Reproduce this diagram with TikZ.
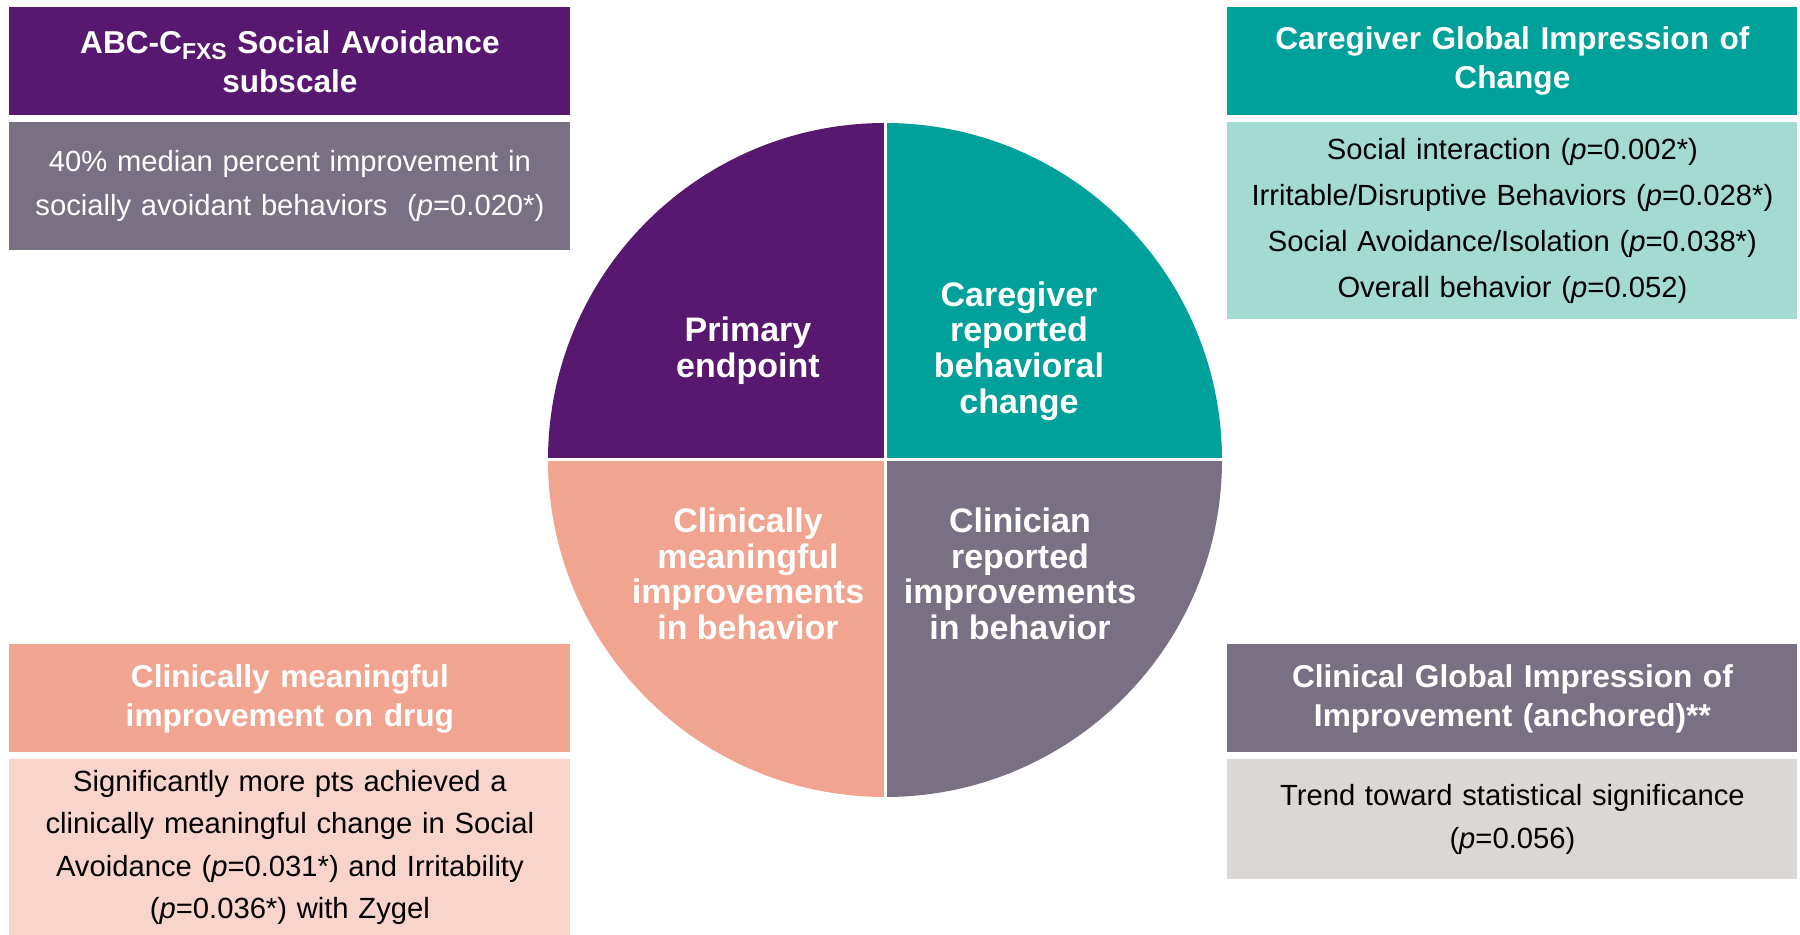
\documentclass[tikz,border=0pt]{standalone}
\usepackage{fontspec}
\setmainfont{Liberation Sans}
\definecolor{plum}{HTML}{58186F}
\definecolor{teal}{HTML}{00A19B}
\definecolor{paleteal}{HTML}{A3DBD2}
\definecolor{salmon}{HTML}{F1A590}
\definecolor{palesalmon}{HTML}{F8D4CB}
\definecolor{mauve}{HTML}{7A7083}
\definecolor{palegrey}{HTML}{DBD7D4}
\newcommand{\headfont}{\fontsize{15.8}{19.5}\selectfont}
\newcommand{\bodyfont}{\fontsize{14.6}{22}\selectfont}
\newcommand{\quadfont}{\fontsize{17}{17.8}\selectfont}
\newcommand{\fxs}{\raisebox{-0.35ex}{\fontsize{11.5}{11.5}\selectfont FXS}}
\tikzset{
  headbox/.style={fill=#1, text=white, font=\bfseries\headfont, minimum width=280.5pt,
    minimum height=54pt, text width=275pt, align=center, inner sep=0pt, anchor=north west},
  bodybox/.style={fill=#1, font=\bodyfont, minimum width=280.5pt,
    text width=275pt, align=center, inner sep=0pt, anchor=north west},
  quadtext/.style={text=white, font=\bfseries\quadfont, align=center}
}
\begin{document}
\begin{tikzpicture}[x=0.5pt,y=0.5pt]
\useasboundingbox (0,0) rectangle (1800,-935);

% pie in four quarters
\coordinate (c) at (885,-460);
\fill[plum] (c) -- ++(180:337) arc (180:90:337) -- cycle;
\fill[teal] (c) -- ++(90:337) arc (90:0:337) -- cycle;
\fill[mauve] (c) -- ++(0:337) arc (0:-90:337) -- cycle;
\fill[salmon] (c) -- ++(-90:337) arc (-90:-180:337) -- cycle;
\draw[white, line width=1.5pt] (885,-120) -- (885,-800);
\draw[white, line width=1.5pt] (545,-460) -- (1225,-460);

\node[quadtext] (primary) at (748,-351) {Primary\\endpoint};
\node[quadtext] (caregiver) at (1019,-351) {Caregiver\\reported\\behavioral\\change};
\node[quadtext] (meaningful) at (748,-574) {Clinically\\meaningful\\improvements\\in behavior};
\node[quadtext] (clinician) at (1020,-574) {Clinician\\reported\\improvements\\in behavior};

% top left
\node[headbox=plum] (abchead) at (9,-7) {ABC-C\fxs{} Social Avoidance\\subscale};
\node[bodybox=mauve, text=white, minimum height=64pt] (abcbody) at (9,-122)
  {40\% median percent improvement in\\socially avoidant behaviors~ (\textit{p}=0.020*)};

% top right
\node[headbox=teal, minimum width=285pt] (cgihead) at (1227,-7) {Caregiver Global Impression of\\Change};
\node[bodybox=paleteal, minimum width=285pt, minimum height=98.5pt, font=\fontsize{14.6}{23}\selectfont] (cgibody) at (1227,-122)
  {Social interaction (\textit{p}=0.002*)\\Irritable/Disruptive Behaviors (\textit{p}=0.028*)\\Social Avoidance/Isolation (\textit{p}=0.038*)\\Overall behavior (\textit{p}=0.052)};

% bottom left
\node[headbox=salmon] (drughead) at (9,-644) {Clinically meaningful\\improvement on drug};
\node[bodybox=palesalmon, minimum height=88pt, font=\fontsize{14.6}{21.3}\selectfont] (drugbody) at (9,-759)
  {Significantly more pts achieved a\\clinically meaningful change in Social\\Avoidance (\textit{p}=0.031*) and Irritability\\(\textit{p}=0.036*) with Zygel};

% bottom right
\node[headbox=mauve, minimum width=285pt] (cgiihead) at (1227,-644) {Clinical Global Impression of\\Improvement (anchored)**};
\node[bodybox=palegrey, minimum width=285pt, minimum height=60pt, font=\fontsize{14.6}{21.5}\selectfont] (cgiibody) at (1227,-759)
  {Trend toward statistical significance\\(\textit{p}=0.056)};
\end{tikzpicture}
\end{document}
